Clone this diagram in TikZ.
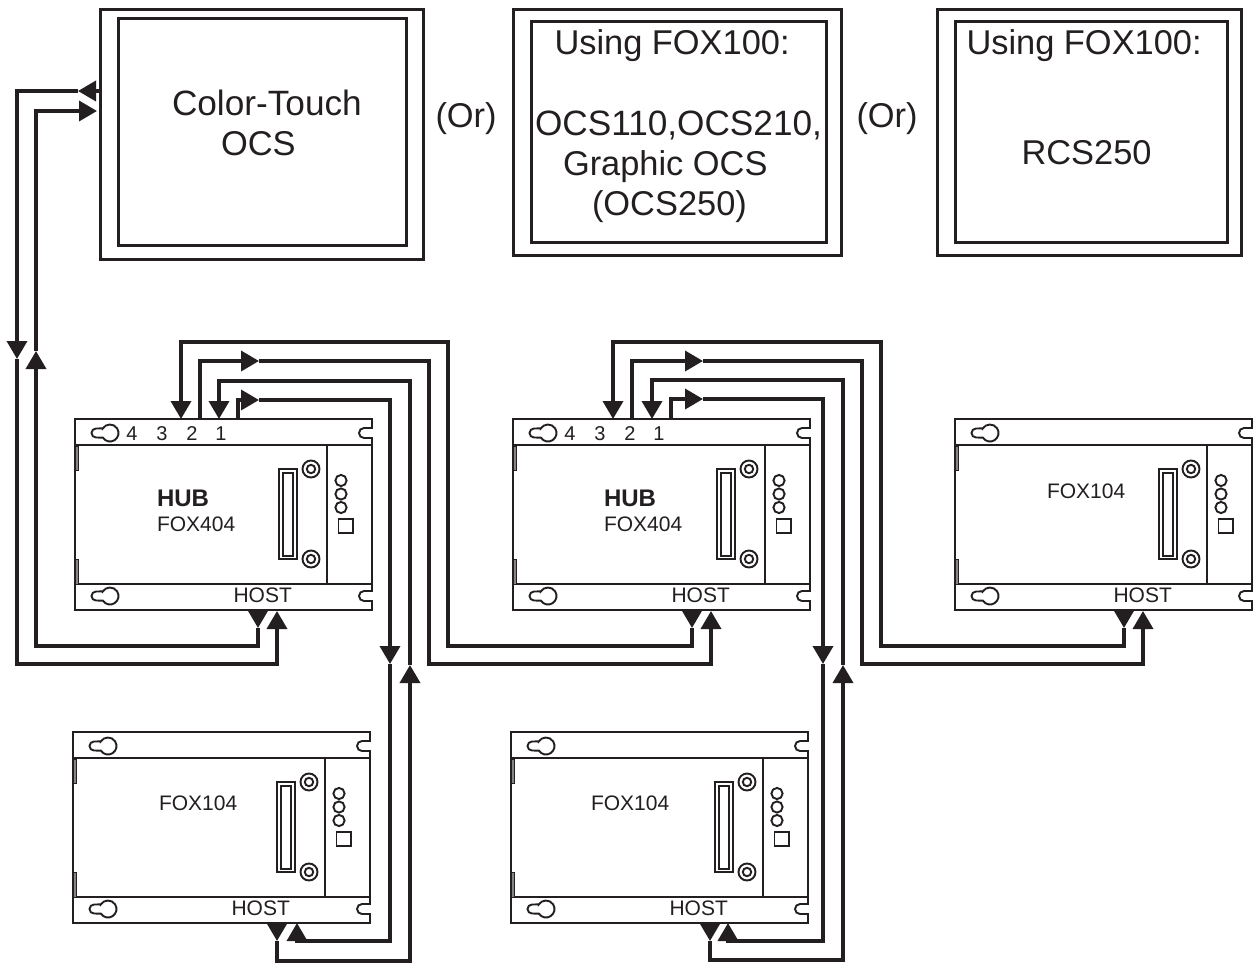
\documentclass[tikz,border=0pt]{standalone}
\usepackage{fontspec}
\setmainfont{Liberation Sans}
\usetikzlibrary{arrows.meta}
\definecolor{ink}{HTML}{231F20}
\tikzset{
  txt/.style={anchor=base west,inner sep=0pt,outer sep=0pt,text=ink},
  big/.style={txt,font=\fontsize{34.4}{38}\selectfont},
  wide/.style={txt,font=\fontsize{35.2}{38}\selectfont},
  small/.style={txt,font=\fontsize{21}{24}\selectfont},
  num/.style={txt,anchor=base,font=\fontsize{20}{22}\selectfont},
  bold/.style={txt,font=\fontsize{24}{28}\selectfont\bfseries},
  frameline/.style={draw=ink,line width=3pt,inner sep=0pt,outer sep=0pt},
  part/.style={draw=ink,line width=1.9pt},
  wire/.style={draw=ink,line width=3.6pt,line join=miter},
  arr/.style={wire,-{Triangle[length=18pt,width=20pt,fill=ink]}}
}
% device with the top-left at (75,419) + shift
\newcommand{\device}[3]{%
  \begin{scope}[shift={(#2,#3)}]
    \node[part,minimum width=297pt,minimum height=191pt,inner sep=0pt,outer sep=0pt] (#1) at (223.5,514.5) {};
    \draw[part] (75,445) -- (372,445);
    \draw[part] (75,584) -- (372,584);
    \draw[part] (327,445) -- (327,584);
    \draw[draw=ink,fill=ink!55,line width=1pt] (75,446) rectangle (78,470);
    \draw[draw=ink,fill=ink!55,line width=1pt] (75,559) rectangle (78,584);
    % keyholes
    \foreach \ky in {433,596}{
      \draw[part] (102.87,\ky-4.63) -- (96,\ky-4.5) arc(270:90:4.5) -- (102.87,\ky+4.63) arc(147:-147:8.5) -- cycle;
      \fill[white] (370.5,\ky-4) rectangle (374,\ky+4);
      \draw[part] (372,\ky-5) -- (364,\ky-5) arc(270:90:5) -- (372,\ky+5);
    }
    % connector
    \draw[part] (279,469) rectangle (297,559);
    \draw[part,line width=1.5pt] (283,473) rectangle (293,556);
    % screws
    \foreach \sy in {469,559}{
      \draw[part] (311,\sy) circle (8.5);
      \draw[part] (311,\sy) circle (4.2);
    }
    % LEDs
    \foreach \ly in {480.5,494,507.5}{\draw[part] (341,\ly) circle (5.6);}
    \draw[part] (338.5,519) rectangle (353,533);
    \node[small] (#1-host) at (233.5,602) {HOST};
  \end{scope}%
}
\newcommand{\portnums}[2]{%
  \node[num] (#1-n4) at (#2+132,440) {4};
  \node[num] (#1-n3) at (#2+162,440) {3};
  \node[num] (#1-n2) at (#2+192,440) {2};
  \node[num] (#1-n1) at (#2+221,440) {1};
}
\begin{document}
\begin{tikzpicture}[x=1pt,y=-1pt]
\useasboundingbox[fill=white] (0,0) rectangle (1257,966);

% top boxes
\node[frameline,minimum width=323pt,minimum height=249pt] (ocs) at (261.5,134.5) {};
\node[frameline,minimum width=288pt,minimum height=226pt] (ocsin) at (262,132) {};
\node[frameline,minimum width=328pt,minimum height=245pt] (mid) at (677,132.5) {};
\node[frameline,minimum width=295pt,minimum height=220pt] (midin) at (678.5,132) {};
\node[frameline,minimum width=304pt,minimum height=245pt] (rcs) at (1089,132.5) {};
\node[frameline,minimum width=272pt,minimum height=220pt] (rcsin) at (1091,132) {};

\node[wide] (t1) at (172,115) {Color-Touch};
\node[big] (t2) at (221,155) {OCS};
\node[big] (or1) at (435.5,127) {(Or)};
\node[big] (or2) at (856.5,127) {(Or)};
\node[big] (t3) at (554.5,55) {Using FOX100:};
\node[wide] (t4) at (535,135) {OCS110,OCS210,};
\node[big] (t5) at (563,175) {Graphic OCS};
\node[big] (t6) at (592,215) {(OCS250)};
\node[big] (t7) at (966.5,55) {Using FOX100:};
\node[big] (t8) at (1021.5,164) {RCS250};

% devices
\device{hub1}{0}{0}
\device{hub2}{438}{0}
\device{foxr}{880}{0}
\device{foxa}{-2}{313}
\device{foxb}{436}{313}

\portnums{hub1}{0}
\portnums{hub2}{438}
\node[bold] (hub1-a) at (157,506) {HUB};
\node[small] (hub1-b) at (157,531) {FOX404};
\node[bold] (hub2-a) at (604,506) {HUB};
\node[small] (hub2-b) at (604,531) {FOX404};
\node[small] (foxr-b) at (1047,498) {FOX104};
\node[small] (foxa-b) at (159,810) {FOX104};
\node[small] (foxb-b) at (591,810) {FOX104};

% ports
\coordinate (ocs-tx) at (100,91);   \coordinate (ocs-txt) at (78,91);
\coordinate (ocs-rx) at (97,111);
\coordinate (m1) at (17,359);       \coordinate (m2) at (36,351);
\coordinate (h1-tx) at (258,610);   \coordinate (h1-txt) at (258,628);
\coordinate (h1-rx) at (277,611);
\coordinate (h2-tx) at (692,610);   \coordinate (h2-txt) at (692,628);
\coordinate (h2-rx) at (711,611);
\coordinate (r-tx) at (1124,610);   \coordinate (r-txt) at (1124,628);
\coordinate (r-rx) at (1143,611);
\coordinate (a-tx) at (277,923);    \coordinate (a-txt) at (277,941);
\coordinate (a-rx) at (297,923);
\coordinate (b-tx) at (710,923);    \coordinate (b-txt) at (710,941);
\coordinate (b-rx) at (728,923);

\coordinate (p14) at (181,419); \coordinate (p12) at (200,419);
\coordinate (p11i) at (219,419); \coordinate (p11o) at (238,419);
\coordinate (p24) at (613,419); \coordinate (p22) at (632,419);
\coordinate (p21i) at (652,419); \coordinate (p21o) at (671,419);

\coordinate (p12t) at (259,361); \coordinate (p11t) at (259,400);
\coordinate (p22t) at (703,361); \coordinate (p21t) at (703,399);
\coordinate (ma-o) at (390,664); \coordinate (ma-i) at (410,665);
\coordinate (mb-o) at (823,664); \coordinate (mb-i) at (843,665);

% OCS <-> hub 1
\draw[arr] (h1-tx) -- (h1-txt);
\draw[arr] (h1-txt) -- (258,646) -- (36,646) -- (m2);
\draw[arr] (m2) |- (ocs-rx);
\draw[arr] (ocs-tx) -- (ocs-txt);
\draw[arr] (ocs-txt) -| (m1);
\draw[arr] (m1) -- (17,664) -- (277,664) -- (h1-rx);

% hub 1 <-> hub 2
\draw[arr] (h2-tx) -- (h2-txt);
\draw[arr] (h2-txt) -- (692,646) -- (448,646) -- (448,342) -- (181,342) -- (p14);
\draw[arr] (p12) |- (p12t);
\draw[arr] (p12t) -- (429,361) -- (429,664) -- (711,664) -- (h2-rx);

% hub 1 <-> lower left
\draw[arr] (a-tx) -- (a-txt);
\draw[arr] (a-txt) -- (277,961) -- (410,961) -- (ma-i);
\draw[arr] (ma-i) -- (410,381) -- (219,381) -- (p11i);
\draw[arr] (p11o) |- (p11t);
\draw[arr] (p11t) -- (390,400) -- (ma-o);
\draw[arr] (ma-o) -- (390,941) -- (297,941) -- (a-rx);

% hub 2 <-> right
\draw[arr] (r-tx) -- (r-txt);
\draw[arr] (r-txt) -- (1124,646) -- (881,646) -- (881,342) -- (613,342) -- (p24);
\draw[arr] (p22) |- (p22t);
\draw[arr] (p22t) -- (862,361) -- (862,664) -- (1143,664) -- (r-rx);

% hub 2 <-> lower middle
\draw[arr] (b-tx) -- (b-txt);
\draw[arr] (b-txt) -- (710,960) -- (843,960) -- (mb-i);
\draw[arr] (mb-i) -- (843,380) -- (652,380) -- (p21i);
\draw[arr] (p21o) |- (p21t);
\draw[arr] (p21t) -- (823,399) -- (mb-o);
\draw[arr] (mb-o) -- (823,941) -- (728,941) -- (b-rx);
\end{tikzpicture}
\end{document}
